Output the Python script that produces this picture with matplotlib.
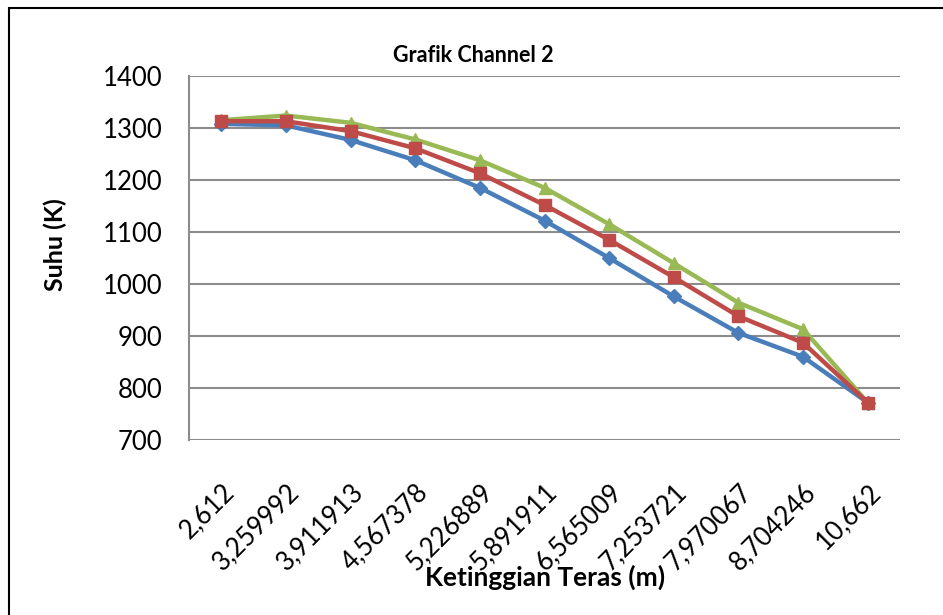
import matplotlib.pyplot as plt
from matplotlib.patches import Rectangle

# Data
heights = ["2,612", "3,259992", "3,911913", "4,567378", "5,226889", "5,891911",
           "6,565009", "7,253721", "7,970067", "8,704246", "10,662"]
blue = [1308, 1305, 1277, 1238, 1185, 1122, 1050, 976, 906, 860, 772]
red = [1313, 1313, 1294, 1261, 1213, 1152, 1085, 1013, 938, 887, 772]
green = [1315, 1324, 1310, 1278, 1238, 1185, 1115, 1040, 964, 913, 772]

plt.rcParams['font.family'] = ['Lato', 'DejaVu Sans']

fig = plt.figure(figsize=(9.43, 6.15), dpi=100)
ax = fig.add_axes([189 / 943, 1 - 440 / 615, (900 - 189) / 943, (440 - 76) / 615])

x = range(len(heights))
ax.plot(x, blue, color='#4A7EBB', lw=3.2, marker='D', ms=7, zorder=3)
ax.plot(x, red, color='#BE4B48', lw=3.2, marker='s', ms=8, zorder=4)
ax.plot(x, green, color='#98B954', lw=3.2, marker='^', ms=8, zorder=2)

ax.set_xlim(-0.5, len(heights) - 0.5)
ax.set_ylim(700, 1400)
ax.set_yticks(range(700, 1401, 100))
ax.yaxis.grid(True, color='#8c8c8c', lw=1.5)
ax.set_axisbelow(True)
for s in ['top', 'right', 'bottom']:
    ax.spines[s].set_visible(False)
ax.spines['left'].set_color('#8c8c8c')
ax.spines['left'].set_linewidth(1.5)

ax.set_xticks(list(x))
ax.set_xticklabels(heights, rotation=45, ha='right', va='top',
                   rotation_mode='anchor', fontsize=18.5)
ax.tick_params(axis='x', length=0, pad=28)
ax.tick_params(axis='y', length=0, pad=19, labelsize=18.5)

fig.text(473 / 943, 1 - 56 / 615, 'Grafik Channel 2', ha='center', va='center',
         fontsize=15.5, fontweight='bold')
fig.text(55 / 943, 1 - 245 / 615, 'Suhu (K)', rotation=90, ha='center',
         va='center', fontsize=18, fontweight='bold')
fig.text(545 / 943, 1 - 577 / 615, 'Ketinggian Teras (m)', ha='center',
         va='center', fontsize=19, fontweight='bold')

# outer chart border
fig.add_artist(Rectangle((9 / 943, -0.1), 1.2, 1 - 8 / 615 + 0.1,
                         transform=fig.transFigure, fill=False,
                         edgecolor='black', lw=1.5))

fig.savefig('out.png', dpi=100)
